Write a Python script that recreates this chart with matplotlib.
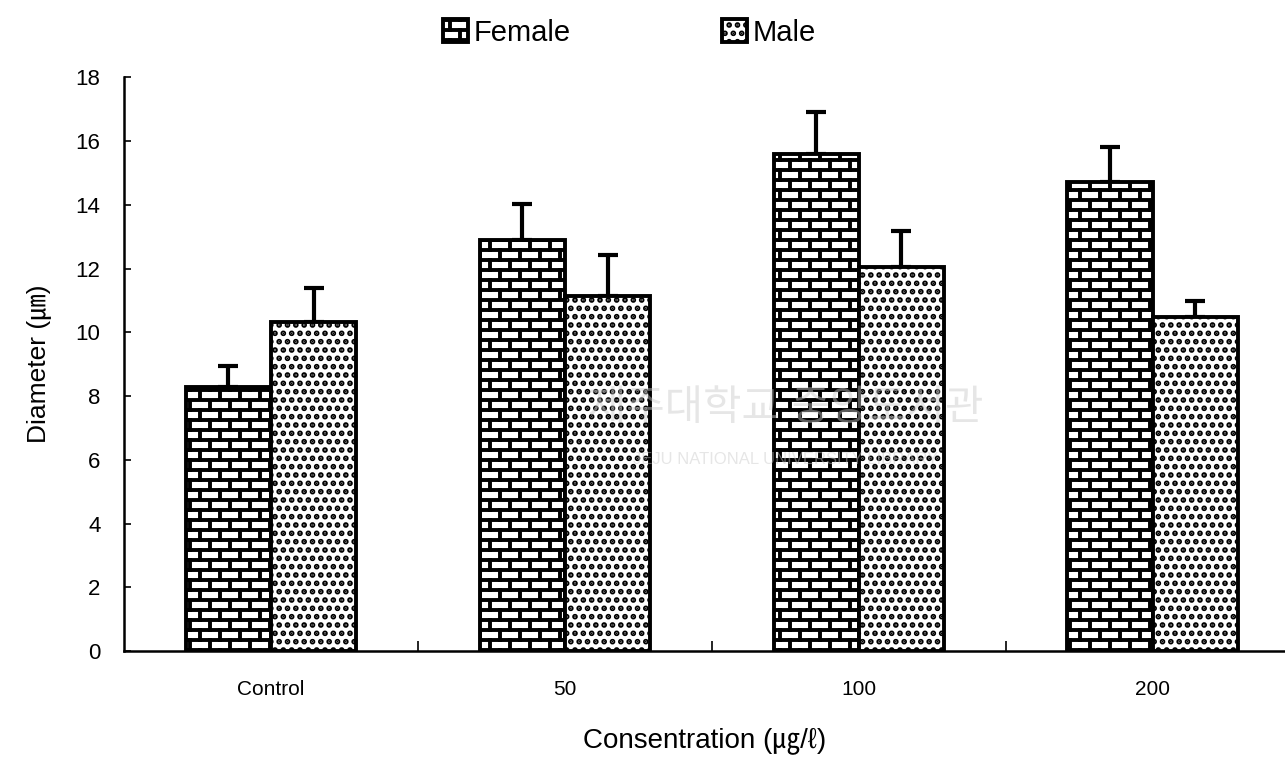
import warnings
import numpy as np
import matplotlib
matplotlib.use("Agg")
import matplotlib.pyplot as plt
import matplotlib.hatch as mhatch
from matplotlib.path import Path

warnings.filterwarnings("ignore")

# ---- data ----
categories = ["Control", "50", "100", "200"]
female_mean = [8.28, 12.88, 15.58, 14.70]
female_err = [0.65, 1.13, 1.32, 1.10]
male_mean = [10.31, 11.13, 12.04, 10.47]
male_err = [1.09, 1.28, 1.13, 0.50]


# brick hatch (matplotlib has none built in) -> 'B'
class BrickHatch(mhatch.HatchPatternBase):
    def __init__(self, hatch, density):
        n = hatch.count('B')
        self.rows = 10 * n
        self.cols = 5 * n
        self.pts = []
        if n:
            for r in range(self.rows + 1):
                y0 = r / self.rows
                self.pts += [(0, y0), (1, y0)]
            for r in range(self.rows):
                y0, y1 = r / self.rows, (r + 1) / self.rows
                if r % 2:
                    xs = [(c + 0.5) / self.cols for c in range(self.cols)]
                else:
                    xs = [c / self.cols for c in range(self.cols + 1)]
                for x in xs:
                    self.pts += [(x, y0), (x, y1)]
        self.num_vertices = len(self.pts)

    def set_vertices_and_codes(self, vertices, codes):
        vertices[:] = np.array(self.pts, dtype=float)
        codes[0::2] = Path.MOVETO
        codes[1::2] = Path.LINETO


mhatch._hatch_types.append(BrickHatch)

plt.rcParams['font.family'] = ['Liberation Sans', 'Noto Sans CJK KR', 'DejaVu Sans']
plt.rcParams['hatch.linewidth'] = 2.8

fig = plt.figure(figsize=(12.85, 7.65), dpi=100)
ax = fig.add_axes([0.0965, 0.149, 0.9035, 0.750])

x = np.arange(len(categories))
w = 0.29

bf = ax.bar(x - w / 2, female_mean, w, color='white', edgecolor='black',
            linewidth=2.8, hatch='B', label='Female', zorder=2)
bm = ax.bar(x + w / 2, male_mean, w, color='white', edgecolor='black',
            linewidth=2.8, hatch='..', label='Male', zorder=2)

ax.errorbar(x - w / 2, female_mean, yerr=[np.zeros(4), female_err], fmt='none',
            ecolor='black', elinewidth=3, capsize=7, capthick=3, zorder=1)
ax.errorbar(x + w / 2, male_mean, yerr=[np.zeros(4), male_err], fmt='none',
            ecolor='black', elinewidth=3, capsize=7, capthick=3, zorder=1)

ax.set_xlim(-0.5, 3.45)
ax.set_ylim(0, 18)
ax.set_yticks(np.arange(0, 19, 2))
ax.tick_params(axis='y', direction='in', length=5, width=1.2, labelsize=16, pad=17)
ax.set_xticks(x)
ax.set_xticklabels(categories)
ax.set_xticks(x[:-1] + 0.5, minor=True)
ax.tick_params(axis='x', which='major', length=0, labelsize=15, pad=21)
ax.tick_params(axis='x', which='minor', direction='in', length=7, width=1.2)

for s in ['top', 'right']:
    ax.spines[s].set_visible(False)
for s in ['left', 'bottom']:
    ax.spines[s].set_linewidth(1.8)

ax.set_ylabel("Diameter (㎛)", fontsize=19, labelpad=18)
ax.set_xlabel("Consentration (㎍/ℓ)", fontsize=20, labelpad=20)

# faint library watermark, lying over the bars
ax.text(1.75, 7.6, "제주대학교 중앙도서관", fontsize=30, color='#c8c8c8', alpha=0.45,
        ha='center', va='center', zorder=5)
ax.text(1.75, 6.0, "JEJU NATIONAL UNIVERSITY LIBRARY", fontsize=12, color='#c8c8c8',
        alpha=0.45, ha='center', va='center', zorder=5)

fig.legend(handles=[bf, bm], labels=['Female', 'Male'], loc='upper center',
           bbox_to_anchor=(0.49, 1.01), ncol=2, frameon=False, fontsize=21,
           handlelength=0.85, handleheight=0.85, handletextpad=0.2,
           columnspacing=5.2)

fig.savefig("out.png", dpi=100, facecolor='white')
